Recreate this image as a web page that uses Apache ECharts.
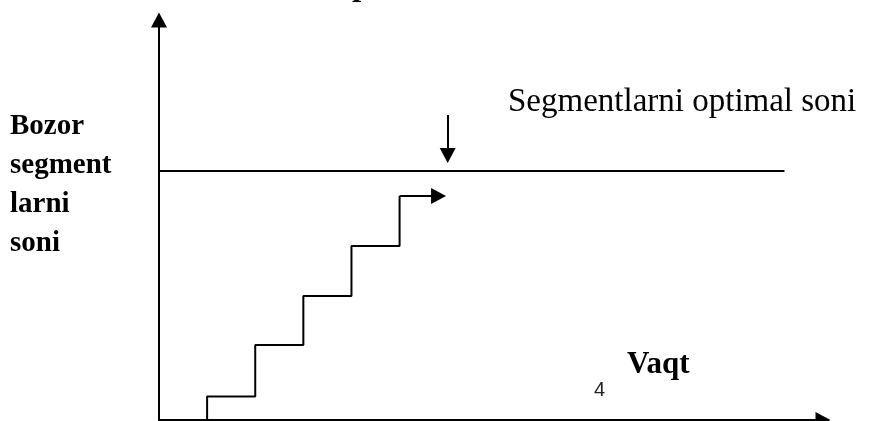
<!DOCTYPE html>
<html>
  <head>
    <meta http-equiv="Content-Type" content="text/html; charset=UTF-8">
    <title>Segmentlarni optimal soni</title>
    <style type="text/css">
      body {
        margin: 0;
        padding: 0;
        background-color: white;
      }
      #main {
        width: 875px;
        height: 421px;
      }
    </style>
  </head>
  <body>
    <div id="main"></div>
    <script type="text/javascript" src="https://cdn.jsdelivr.net/npm/echarts@6/dist/echarts.min.js"></script>
    <script type="text/javascript">
      // step line: time -> number of segments
      var stepTimes = [0, 1, 2, 3, 4, 5];
      var stepLevels = [0, 5.9, 18.75, 31, 43.5, 56];
      var stepArrowEnd = 5.81;

      // optimal number of segments (horizontal line)
      var optimalLevel = 62.25;
      var optimalEnd = 13;

      // pointer arrow above the line
      var pointerTime = 6;
      var pointerFrom = 76.25;
      var pointerTo = 66.1;

      var axisMax = { x: 13.8, y: 100 };

      var stepData = [];
      for (var i = 0; i < stepTimes.length; i++) {
        stepData.push([stepTimes[i], stepLevels[i]]);
      }
      var lastLevel = stepLevels[stepLevels.length - 1];
      var lastTime = stepTimes[stepTimes.length - 1];

      var serif = 'Liberation Serif';

      var myChart = echarts.init(document.getElementById('main'));
      var option = {
        backgroundColor: '#fff',
        animation: false,
        grid: { left: 159, top: 20, width: 664, height: 400 },
        xAxis: {
          type: 'value',
          min: 0,
          max: axisMax.x,
          axisLine: {
            show: true,
            symbol: ['none', 'triangle'],
            symbolSize: [16, 15],
            lineStyle: { color: '#000', width: 2 }
          },
          axisTick: { show: false },
          axisLabel: { show: false },
          splitLine: { show: false }
        },
        yAxis: {
          type: 'value',
          min: 0,
          max: axisMax.y,
          axisLine: {
            show: true,
            symbol: ['none', 'triangle'],
            symbolSize: [16, 15],
            lineStyle: { color: '#000', width: 2 }
          },
          axisTick: { show: false },
          axisLabel: { show: false },
          splitLine: { show: false }
        },
        graphic: [
          {
            // bottom of the cut-off heading
            type: 'text', left: 352, top: -30,
            style: { text: 'p', font: 'bold 33px "' + serif + '"', fill: '#000' }
          },
          {
            type: 'text', x: 508, y: 102.5,
            style: {
              text: 'Segmentlarni optimal soni',
              font: '33px "' + serif + '"', fill: '#000',
              verticalAlign: 'middle'
            }
          },
          {
            type: 'text', x: 10, y: 107.5,
            style: {
              text: 'Bozor\nsegment\nlarni\nsoni',
              font: 'bold 29px "' + serif + '"', lineHeight: 39, fill: '#000',
              verticalAlign: 'top'
            }
          },
          {
            type: 'text', x: 627, y: 365,
            style: {
              text: 'Vaqt',
              font: 'bold 31px "' + serif + '"', fill: '#000',
              verticalAlign: 'middle'
            }
          },
          {
            type: 'text', x: 594, y: 390,
            style: {
              text: '4',
              font: '20px "Liberation Sans"', fill: '#222',
              verticalAlign: 'middle'
            }
          }
        ],
        series: [{
          type: 'line',
          step: 'end',
          data: stepData,
          showSymbol: false,
          lineStyle: { color: '#000', width: 2 },
          markLine: {
            silent: true,
            symbol: 'none',
            lineStyle: { color: '#000', width: 2, type: 'solid' },
            label: { show: false },
            emphasis: { disabled: true },
            data: [
              [{ coord: [0, optimalLevel] }, { coord: [optimalEnd, optimalLevel] }],
              [{ coord: [lastTime, lastLevel] },
               { coord: [stepArrowEnd, lastLevel], symbol: 'triangle', symbolSize: [16, 15] }],
              [{ coord: [pointerTime, pointerFrom] },
               { coord: [pointerTime, pointerTo], symbol: 'triangle', symbolSize: [16, 15] }]
            ]
          }
        }]
      };
      myChart.setOption(option);
    </script>
  </body>
</html>
